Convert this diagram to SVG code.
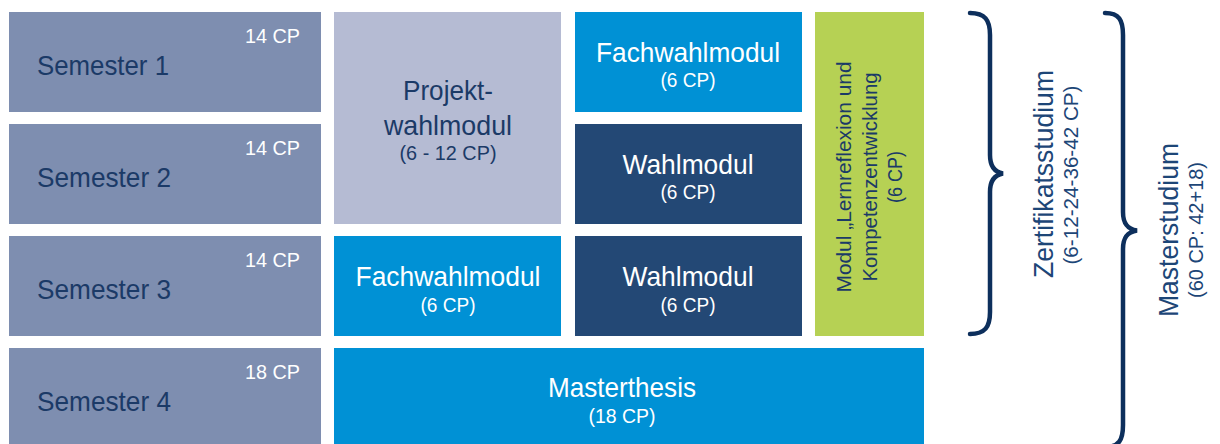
<svg xmlns="http://www.w3.org/2000/svg" width="1220" height="444" viewBox="0 0 1220 444">
<style>
text{font-family:"Liberation Sans",Arial,sans-serif;}
.sem{fill:#7e8eb0;}
.proj{fill:#b5bbd3;}
.blue{fill:#0091d5;}
.dark{fill:#234875;}
.green{fill:#b6d154;}
.big{font-size:28px;}
.small{font-size:20px;}
.navy{fill:#1b3a67;}
.white{fill:#ffffff;}
.mid{text-anchor:middle;}
.end{text-anchor:end;}
.brace{fill:none;stroke:#0d2f5c;stroke-width:4.5;stroke-linecap:round;}
.side{fill:#1d4677;}
</style>
<g id="semester1">
<rect class="sem" x="9" y="12" width="312" height="100"/>
<text class="big navy" x="37" y="75" textLength="132" lengthAdjust="spacingAndGlyphs">Semester 1</text>
<text class="small white end" x="300" y="43" textLength="55" lengthAdjust="spacingAndGlyphs">14 CP</text>
</g>
<g id="semester2">
<rect class="sem" x="9" y="124" width="312" height="100"/>
<text class="big navy" x="37" y="187" textLength="134" lengthAdjust="spacingAndGlyphs">Semester 2</text>
<text class="small white end" x="300" y="155" textLength="55" lengthAdjust="spacingAndGlyphs">14 CP</text>
</g>
<g id="semester3">
<rect class="sem" x="9" y="236" width="312" height="100"/>
<text class="big navy" x="37" y="299" textLength="134" lengthAdjust="spacingAndGlyphs">Semester 3</text>
<text class="small white end" x="300" y="267" textLength="55" lengthAdjust="spacingAndGlyphs">14 CP</text>
</g>
<g id="semester4">
<rect class="sem" x="9" y="348" width="312" height="96"/>
<text class="big navy" x="37" y="411" textLength="134" lengthAdjust="spacingAndGlyphs">Semester 4</text>
<text class="small white end" x="300" y="379" textLength="55" lengthAdjust="spacingAndGlyphs">18 CP</text>
</g>
<g id="projektwahlmodul">
<rect class="proj" x="334" y="12" width="227" height="212"/>
<text class="big navy mid" x="448" y="100" textLength="90" lengthAdjust="spacingAndGlyphs">Projekt-</text>
<text class="big navy mid" x="448" y="135" textLength="128" lengthAdjust="spacingAndGlyphs">wahlmodul</text>
<text class="small navy mid" x="448" y="160" textLength="97" lengthAdjust="spacingAndGlyphs">(6 - 12 CP)</text>
</g>
<g id="fachwahlmodul1">
<rect class="blue" x="575" y="12" width="227" height="100"/>
<text class="big white mid" x="688" y="62" textLength="184" lengthAdjust="spacingAndGlyphs">Fachwahlmodul</text>
<text class="small white mid" x="688" y="87" textLength="55" lengthAdjust="spacingAndGlyphs">(6 CP)</text>
</g>
<g id="wahlmodul1">
<rect class="dark" x="575" y="124" width="227" height="100"/>
<text class="big white mid" x="688" y="174" textLength="131" lengthAdjust="spacingAndGlyphs">Wahlmodul</text>
<text class="small white mid" x="688" y="199" textLength="55" lengthAdjust="spacingAndGlyphs">(6 CP)</text>
</g>
<g id="fachwahlmodul2">
<rect class="blue" x="334" y="236" width="227" height="100"/>
<text class="big white mid" x="448" y="286" textLength="185" lengthAdjust="spacingAndGlyphs">Fachwahlmodul</text>
<text class="small white mid" x="448" y="312" textLength="55" lengthAdjust="spacingAndGlyphs">(6 CP)</text>
</g>
<g id="wahlmodul2">
<rect class="dark" x="575" y="236" width="227" height="100"/>
<text class="big white mid" x="688" y="286" textLength="131" lengthAdjust="spacingAndGlyphs">Wahlmodul</text>
<text class="small white mid" x="688" y="312" textLength="55" lengthAdjust="spacingAndGlyphs">(6 CP)</text>
</g>
<g id="lernreflexion">
<rect class="green" x="815" y="12" width="109" height="324"/>
<g transform="translate(851,177) rotate(-90)">
<text class="navy mid" style="font-size:21px" x="0" y="0" textLength="231" lengthAdjust="spacingAndGlyphs">Modul „Lernreflexion und</text>
<text class="navy mid" style="font-size:21px" x="0" y="26" textLength="209" lengthAdjust="spacingAndGlyphs">Kompetenzentwicklung</text>
<text class="navy mid" style="font-size:21px" x="0" y="51" textLength="52" lengthAdjust="spacingAndGlyphs">(6 CP)</text>
</g>
</g>
<g id="masterthesis">
<rect class="blue" x="334" y="348" width="590" height="96"/>
<text class="big white mid" x="622" y="397" textLength="148" lengthAdjust="spacingAndGlyphs">Masterthesis</text>
<text class="small white mid" x="622" y="423" textLength="67" lengthAdjust="spacingAndGlyphs">(18 CP)</text>
</g>
<g id="connectors">
<path class="brace" d="M970,13 C985,13 990,20 990,35 L990,155 C990,166 994,172 1003,173.5 C994,175 990,181 990,192 L990,312 C990,327 985,334 970,334"/>
<path class="brace" d="M1105,13 C1119,13 1123,20 1123,35 L1123,212 C1123,223 1127,229 1137,230.5 C1127,232 1123,238 1123,249 L1123,425 C1123,440 1119,447 1105,447"/>
</g>
<g id="zertifikatsstudium">
<text class="big side mid" transform="translate(1053,174) rotate(-90)" textLength="208" lengthAdjust="spacingAndGlyphs">Zertifikatsstudium</text>
<text class="small side mid" transform="translate(1078,175) rotate(-90)" textLength="179" lengthAdjust="spacingAndGlyphs">(6-12-24-36-42 CP)</text>
</g>
<g id="masterstudium">
<text class="big side mid" transform="translate(1178,230) rotate(-90)" textLength="174" lengthAdjust="spacingAndGlyphs">Masterstudium</text>
<text class="small side mid" transform="translate(1203,230) rotate(-90)" textLength="136" lengthAdjust="spacingAndGlyphs">(60 CP: 42+18)</text>
</g>
</svg>
